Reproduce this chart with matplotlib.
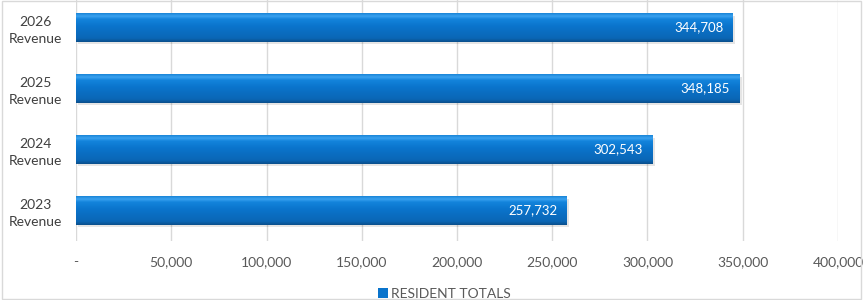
import numpy as np
import matplotlib.pyplot as plt
from matplotlib.patches import Rectangle
from matplotlib.colors import LinearSegmentedColormap
from matplotlib.ticker import FuncFormatter

# data
categories = ["2023\nRevenue", "2024\nRevenue", "2025\nRevenue", "2026\nRevenue"]
totals = [257732, 302543, 348185, 344708]
series_name = "RESIDENT TOTALS"
xticks = [0, 50000, 100000, 150000, 200000, 250000, 300000, 350000, 400000]

plt.rcParams['font.family'] = ['Lato', 'DejaVu Sans']

fig = plt.figure(figsize=(8.63, 3.0), dpi=100)
ax = fig.add_axes([0.0881, 0.197, 0.8829, 0.813])

y = np.arange(len(categories))
h = 0.47
# bevel gradient: dark bottom, mid, light top
cmap = LinearSegmentedColormap.from_list(
    "bevel", [(0, "#0a4f8c"), (0.12, "#0b66b5"), (0.55, "#0a74cc"),
              (0.8, "#1384dc"), (0.9, "#3aa2f0"), (1, "#1a86d8")])
grad = np.linspace(0, 1, 64).reshape(-1, 1)

for yi, v in zip(y, totals):
    # soft shadow
    ax.add_patch(Rectangle((800, yi - h / 2 - 0.04), v + 400, h,
                           color="#000000", alpha=0.10, lw=0, zorder=2))
    ax.imshow(grad, cmap=cmap, aspect="auto", origin="lower",
              extent=(0, v, yi - h / 2, yi + h / 2), zorder=3)
    ax.text(v - 5000, yi, f"{v:,}", color="white", fontsize=9.5,
            ha="right", va="center", zorder=4)

# legend proxy
ax.barh([0], [0], color="#0a74cc", label=series_name)

ax.set_xlim(0, 400000)
ax.set_ylim(-0.5, len(categories) - 0.5)
ax.set_xticks(xticks)
ax.xaxis.set_major_formatter(FuncFormatter(lambda v, p: "-" if v == 0 else f"{int(v):,}"))
ax.set_yticks(y)
ax.set_yticklabels(categories, ha="center", multialignment="center", linespacing=1.45)
ax.tick_params(axis="y", length=0, pad=29, labelsize=10, labelcolor="#404040")
ax.tick_params(axis="x", length=0, pad=11, labelsize=10, labelcolor="#595959")
ax.grid(axis="x", color="#d9d9d9", lw=1)
ax.set_axisbelow(True)
for s in ax.spines.values():
    s.set_visible(False)

leg = fig.legend(loc="lower center", bbox_to_anchor=(0.515, -0.04), frameon=False,
                 fontsize=10, handlelength=0.7, handleheight=0.7, handletextpad=0.2)
for t in leg.get_texts():
    t.set_color("#595959")

fig.patches.append(Rectangle((0.002, 0.002), 0.996, 0.996, transform=fig.transFigure,
                             fill=False, ec="#d9d9d9", lw=1))

fig.savefig("out.png", dpi=100)
